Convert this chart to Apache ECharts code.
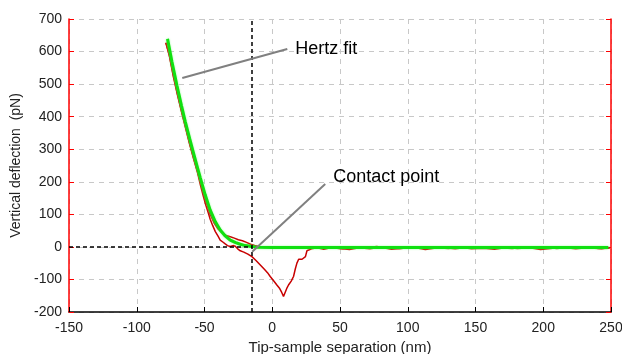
<!DOCTYPE html>
<html>
<head>
<meta charset="utf-8">
<script src="https://cdn.jsdelivr.net/npm/echarts@6/dist/echarts.min.js"></script>
<style>
html, body { margin: 0; padding: 0; background: #fff; }
#myChart { width: 622px; height: 354px; }
</style>
</head>
<body>
<div id="myChart"></div>
<script>
// Hertz fit (green)
var fitX = [-77.3, -74, -70.3, -67, -64.2, -61, -58.5, -55.5, -53.1, -49.5, -45.8, -42, -38.4, -35, -31, -27, -23.6, -20, -16.2, -13, -10, 0, 50, 100, 150, 200, 248];
var fitY = [639, 568, 495, 434, 385, 333, 294, 248, 212, 160, 113, 77, 52, 35, 21, 13, 8, 4, 2, 0, -1, -2, -2, -2, -2, -2, -2];

// approach curve (red, upper branch)
var approachX = [-78.5, -76, -73, -70, -67, -64, -61, -58, -55, -52, -49, -46, -43, -40, -37, -34, -31, -28, -25, -22, -19, -16, -13, -10, -6, -2, 3, 8, 14, 20, 27, 35, 43, 52, 60, 68, 77, 85, 94, 102, 110, 118, 127, 135, 143, 152, 160, 168, 177, 185, 194, 202, 210, 218, 227, 235, 243, 249];
var approachY = [627, 590, 528, 470, 418, 368, 318, 272, 228, 182, 140, 102, 74, 55, 43, 35, 31, 27, 22, 19, 14, 8, 4, 1, -2, 0, -3, -1, -4, -2, -5, -1, -3, -6, -2, -4, 1, -3, -5, -2, -4, -1, -3, -6, -2, -4, 0, -3, -5, -2, -4, -1, -5, -2, -4, -3, -6, -2];

// retract curve (red, lower branch)
var retractX = [-78.5, -76, -73, -70, -67, -64, -61, -58, -55, -53, -51, -49, -47, -45.8, -44, -42, -40, -38.4, -36.5, -34.7, -33, -31, -29, -27.3, -25.5, -23.6, -21, -18, -15, -12, -9, -6, -3, -1.5, 1, 3.4, 5.5, 7, 8.3, 9.5, 11, 12, 14, 15.7, 17, 18.2, 19.5, 20.7, 22, 23, 24.5, 25.6, 27, 29, 33, 38, 44, 50, 57, 64, 72, 80, 88, 97, 105, 113, 122, 130, 139, 147, 156, 164, 173, 181, 190, 198, 207, 215, 224, 232, 241, 249];
var retractY = [627, 588, 523, 468, 416, 366, 316, 270, 226, 190, 158, 128, 102, 85, 66, 47, 33, 21, 15, 9, 4, 1, 4, 2, -6, -12, -16, -22, -30, -42, -55, -68, -82, -91, -104, -117, -128, -140, -152, -140, -125, -117, -105, -91, -68, -50, -38, -35, -38, -40, -30, -12, -8, -6, -3, -7, -2, -5, -8, -3, -6, -1, -7, -4, -2, -8, -3, -5, -1, -6, -4, -7, -2, -5, -3, -8, -4, -2, -6, -3, -5, -4];

// contact point and annotation lines
var contactX = -15;
var hertzNote = [[-66.4, 519], [11.1, 608]];
var contactNote = [[-14.8, -15], [39.1, 193.5]];

var Chart = {};

Chart.font = 'Liberation Sans, Arial, sans-serif';

Chart.pairs = function(xs, ys) {
	var list = [];
	for (var i = 0; i < xs.length; i++) {
		list.push([xs[i], ys[i]]);
	}
	return list;
};

Chart.noteSeries = function(points, text, dy) {
	return {
		type : 'line',
		symbol : 'none',
		silent : true,
		lineStyle : { color : '#808080', width : 2 },
		data : points,
		endLabel : {
			show : true,
			distance : 8,
			offset : [ 0, dy ],
			formatter : text,
			color : '#000',
			fontSize : 18,
			fontFamily : Chart.font
		},
		z : 5
	};
};

Chart.init = function() {
	var myChart = echarts.init(document.getElementById('myChart'));
	var font = Chart.font;
	var gridLine = { show : true, lineStyle : { color : '#c8c8c8', type : [ 5, 5 ], width : 1 } };

	var option = {
		animation : false,
		grid : { left : 69, right : 11, top : 19, bottom : 42, containLabel : false, outerBoundsMode : 'none' },
		xAxis : {
			type : 'value',
			min : -150,
			max : 250,
			interval : 50,
			name : 'Tip-sample separation (nm)',
			nameLocation : 'middle',
			nameGap : 27,
			nameTextStyle : { color : '#222', fontSize : 15, fontFamily : font },
			axisLine : { onZero : false, lineStyle : { color : '#000', width : 1.5 } },
			axisTick : { inside : true, length : 5, lineStyle : { color : '#000' } },
			axisLabel : { color : '#222', fontSize : 14, fontFamily : font, margin : 9 },
			splitLine : gridLine
		},
		yAxis : [ {
			type : 'value',
			min : -200,
			max : 700,
			interval : 100,
			name : 'Vertical deflection  (pN)',
			nameLocation : 'middle',
			nameGap : 45,
			nameTextStyle : { color : '#222', fontSize : 14, fontFamily : font },
			axisLine : { show : true, onZero : false, lineStyle : { color : '#ff0000', width : 1.5 } },
			axisTick : { show : true, inside : true, length : 5, lineStyle : { color : '#ff0000' } },
			axisLabel : { color : '#222', fontSize : 14, fontFamily : font, margin : 7 },
			splitLine : gridLine
		}, {
			type : 'value',
			position : 'right',
			min : -200,
			max : 700,
			interval : 100,
			axisLine : { show : true, onZero : false, lineStyle : { color : '#ff0000', width : 1.5 } },
			axisTick : { show : true, inside : true, length : 5, lineStyle : { color : '#ff0000' } },
			axisLabel : { show : false },
			splitLine : { show : false }
		} ],
		series : [ {
			type : 'line',
			symbol : 'none',
			data : Chart.pairs(retractX, retractY),
			lineStyle : { color : '#c80000', width : 1.5 },
			markLine : {
				silent : true,
				symbol : 'none',
				label : { show : false },
				lineStyle : { color : '#000', type : [ 4, 3 ], width : 1.5 },
				data : [ { xAxis : contactX }, [ { coord : [ -150, 0 ] }, { coord : [ contactX, 0 ] } ] ]
			},
			z : 2
		}, {
			type : 'line',
			symbol : 'none',
			data : Chart.pairs(approachX, approachY),
			lineStyle : { color : '#c80000', width : 1.5 },
			z : 2
		}, {
			type : 'line',
			symbol : 'none',
			data : Chart.pairs(fitX, fitY),
			lineStyle : { color : '#10e010', width : 3, shadowColor : 'rgba(120,255,120,0.8)', shadowBlur : 2 },
			z : 3
		}, Chart.noteSeries(hertzNote, 'Hertz fit', 0), Chart.noteSeries(contactNote, 'Contact point', -7) ]
	};

	myChart.setOption(option);
};

Chart.init();
</script>
</body>
</html>
